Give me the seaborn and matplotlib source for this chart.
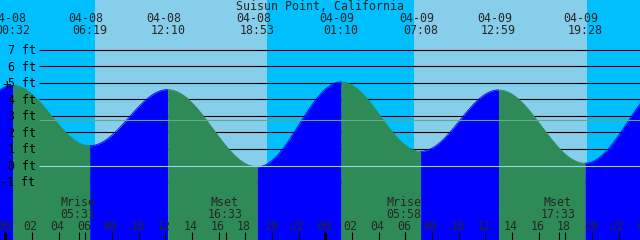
import numpy as np
import pandas as pd
import matplotlib
matplotlib.use("Agg")
import matplotlib.pyplot as plt
import seaborn as sns

# ---------------- data ----------------
title = "Suisun Point, California"
# tide extrema (first and last lie just outside the window)
tide_times = ["04-07 18:15", "04-08 00:32", "04-08 06:19", "04-08 12:10", "04-08 18:53",
              "04-09 01:10", "04-09 07:08", "04-09 12:59", "04-09 19:28", "04-10 01:50"]
tide_heights = [-0.10, 4.86, 1.20, 4.60, -0.08, 5.06, 0.86, 4.58, 0.14, 5.10]
sunrise_times = ["04-08 06:43", "04-09 06:38"]
sunset_times = ["04-08 19:35", "04-09 19:35"]
moon_labels = ["Mrise", "Mset", "Mrise", "Mset"]
moon_times = ["04-08 05:31", "04-08 16:33", "04-09 05:58", "04-09 17:33"]
ft_levels = [7, 6, 5, 4, 3, 2, 1, 0, -1]
msl_level = 2.73
hour_ticks = list(range(0, 49, 2))

# ---------------- styling ----------------
DAY = "#87ceeb"
NIGHT = "#00bfff"
FLOOD = "#0000ff"
EBB = "#2e8b57"
MSL = "#62a88e"
DATUM = "#96d6dc"
W, H = 640, 240
XMIN, XMAX = -0.4125, 47.59       # hours since 04-08 00:00
YMIN, YMAX = -4.515, 10.03        # feet

FONT = "DejaVu Sans Mono"
FS = 8.4


def hours(s):
    day = int(s[3:5]) - 8
    hh, mm = s[6:].split(":")
    return day * 24 + int(hh) + int(mm) / 60.0


def px_x(p):
    return XMIN + p / W * (XMAX - XMIN)


def px_y(p):
    return YMAX - p / H * (YMAX - YMIN)


sns.set_theme(style="white")
plt.rcParams["font.family"] = [FONT, "DejaVu Sans"]

fig = plt.figure(figsize=(W / 100, H / 100), dpi=100)
ax = fig.add_axes([0, 0, 1, 1])
ax.set_xlim(XMIN, XMAX)
ax.set_ylim(YMIN, YMAX)
ax.axis("off")
ax.set_facecolor(NIGHT)
ax.axvspan(XMIN, XMAX, color=NIGHT, zorder=0, lw=0)
for sr, ss in zip(sunrise_times, sunset_times):
    ax.axvspan(hours(sr), hours(ss), color=DAY, zorder=0.5, lw=0)

# black foot lines (behind tide)
ax.hlines(ft_levels, px_x(39), XMAX, colors="black", lw=0.8, zorder=1)

# tide curve
t_ext = [hours(s) for s in tide_times]
rows = []
for i in range(len(t_ext) - 1):
    t0, t1 = t_ext[i], t_ext[i + 1]
    h0, h1 = tide_heights[i], tide_heights[i + 1]
    tt = np.linspace(t0, t1, 120)
    f = (tt - t0) / (t1 - t0)
    hh = h0 + (h1 - h0) * (1 - np.cos(np.pi * f)) / 2
    phase = "rising" if h1 > h0 else "falling"
    for a, b in zip(tt, hh):
        rows.append((i, a, b, phase))
curve = pd.DataFrame(rows, columns=["seg", "hour", "height", "phase"])

for seg, d in curve.groupby("seg"):
    col = FLOOD if d["phase"].iloc[0] == "rising" else EBB
    ax.fill_between(d["hour"], YMIN, d["height"], color=col, lw=0, zorder=2)
    sns.lineplot(data=d, x="hour", y="height", color=col, lw=0.6, ax=ax,
                 zorder=2.1, estimator=None, sort=False)
ax.set_xlim(XMIN, XMAX)
ax.set_ylim(YMIN, YMAX)
ax.axis("off")

# reference lines over tide
ax.hlines([msl_level], px_x(39), XMAX, colors=MSL, lw=0.8, zorder=3)
ax.hlines([0], px_x(39), XMAX, colors=DATUM, lw=0.8, zorder=3)

# y labels
for lv in ft_levels:
    ax.text(px_x(35.5), lv - 4.3 / 16.5, f"{lv} ft", ha="right", va="baseline",
            fontsize=FS, family=FONT, color="black", zorder=5)
ax.text(px_x(7), px_y(89.5), "+", ha="center", va="baseline",
        fontsize=FS + 2, family=FONT, color="black", zorder=5)

# title and tide labels
ax.text(px_x(320), px_y(10.5), title, ha="center", va="baseline",
        fontsize=FS, family=FONT, zorder=5)
for s, t in zip(tide_times, t_ext):
    if XMIN - 3 < t < XMAX + 3:
        ax.text(t - 4 / 13.333, px_y(22), s[:5], ha="center", va="baseline",
                fontsize=FS, family=FONT, zorder=5)
        ax.text(t, px_y(34.5), s[6:], ha="center", va="baseline",
                fontsize=FS, family=FONT, zorder=5)

# moon events
for lab, s in zip(moon_labels, moon_times):
    t = hours(s)
    ax.text(t - 1.5 / 13.333, px_y(206.5), lab, ha="center", va="baseline",
            fontsize=FS, family=FONT, zorder=5)
    ax.text(t - 1 / 13.333, px_y(218.5), s[6:], ha="center", va="baseline",
            fontsize=FS, family=FONT, zorder=5)
    ax.vlines([t], px_y(240), px_y(232), colors="black", lw=0.8, zorder=5)

# hour ticks
for hr in hour_ticks:
    ax.text(hr - 1.5 / 13.333, px_y(230.5), f"{hr % 24:02d}", ha="center",
            va="baseline", fontsize=FS, family=FONT, zorder=5)
    lw = 2.2 if hr % 24 == 0 else 0.8
    ax.vlines([hr], px_y(240), px_y(232), colors="black", lw=lw, zorder=5)

fig.savefig("out.png", dpi=100)
